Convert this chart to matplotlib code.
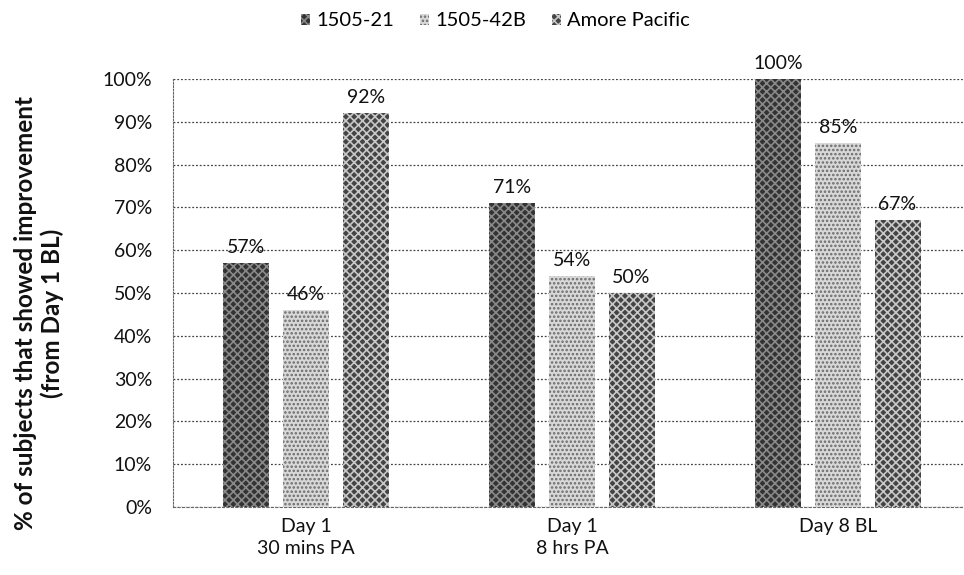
import numpy as np
import matplotlib.pyplot as plt
from matplotlib.patches import Patch

plt.rcParams['font.family'] = ['Lato', 'DejaVu Sans']
plt.rcParams['hatch.linewidth'] = 1.2

groups = ['Day 1\n30 mins PA', 'Day 1\n8 hrs PA', 'Day 8 BL']
series = ['1505-21', '1505-42B', 'Amore Pacific']
v_1505_21 = [57, 71, 100]
v_1505_42b = [46, 54, 85]
v_amore = [92, 50, 67]
values = [v_1505_21, v_1505_42b, v_amore]

faces = ['#333333', '#d8d8d8', '#444444']
hatch_cols = ['#8a8a8a', '#6a6a6a', '#c8c8c8']
hatches = ['xxxx', '....', 'xxxx']

W, H = 964, 575
fig = plt.figure(figsize=(W / 100, H / 100), dpi=100)
ax = fig.add_axes([173 / W, 1 - 507 / H, 1 - 173 / W, (507 - 79) / H])

x = np.arange(len(groups))
width = 0.173
offset = 0.224
for i, (name, vals) in enumerate(zip(series, values)):
    pos = x + (i - 1) * offset
    bars = ax.bar(pos, vals, width, color=faces[i], edgecolor=hatch_cols[i],
                  hatch=hatches[i], linewidth=0, zorder=3, label=name)
    for b, v in zip(bars, vals):
        ax.text(b.get_x() + b.get_width() / 2, v + 1.6, f'{v}%', ha='center',
                va='bottom', fontsize=14, color='#111111', zorder=4)

ax.set_xlim(-0.5, 2.474)
ax.set_ylim(0, 100)
ax.set_yticks(np.arange(0, 101, 10))
ax.set_yticklabels([f'{t}%' for t in range(0, 101, 10)], fontsize=14, color='#111111')
ax.set_xticks(x)
ax.set_xticklabels(groups, fontsize=14, color='#111111', linespacing=1.35)
ax.tick_params(length=0)
ax.tick_params(axis='y', pad=15)
ax.tick_params(axis='x', pad=8)

ax.yaxis.grid(True, linestyle=(0, (1.5, 1.5)), color='#444444', linewidth=0.9, zorder=0)
for s in ['top', 'right']:
    ax.spines[s].set_visible(False)
ax.spines['left'].set_linestyle((0, (1.5, 1.5)))
ax.spines['left'].set_color('#666666')
ax.spines['bottom'].set_linestyle((0, (2, 2)))
ax.spines['bottom'].set_color('#666666')

fig.text(39 / W, 1 - 313 / H,
         '% of subjects that showed improvement\n(from Day 1 BL)',
         rotation=90, ha='center', va='center', multialignment='center',
         fontsize=17.5, fontweight='bold', linespacing=1.2, color='#111111')

handles = [Patch(facecolor=faces[i], edgecolor=hatch_cols[i], hatch=hatches[i],
                 linewidth=0) for i in range(3)]
fig.legend(handles, series, loc='upper center', bbox_to_anchor=(0.514, 1.01),
           ncol=3, frameon=False, fontsize=14.5, handlelength=0.45,
           handleheight=0.45, handletextpad=0.3, columnspacing=1.3)

fig.savefig('out.png', dpi=100)
